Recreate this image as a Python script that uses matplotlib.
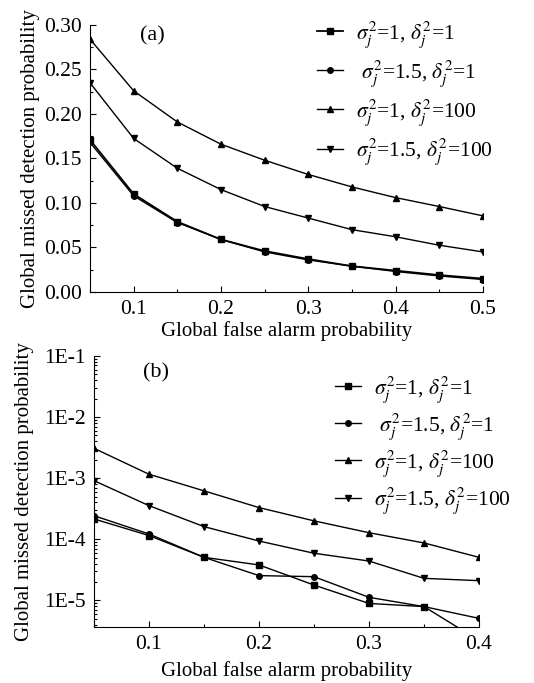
import numpy as np
import matplotlib
matplotlib.use("Agg")
import matplotlib.pyplot as plt
from matplotlib.ticker import MultipleLocator, LogLocator, NullFormatter, FuncFormatter

plt.rcParams['font.family'] = ['Liberation Serif', 'DejaVu Serif']
plt.rcParams['mathtext.fontset'] = 'stix'

# panel (a): linear scale
pf_a = [0.05, 0.10, 0.15, 0.20, 0.25, 0.30, 0.35, 0.40, 0.45, 0.50]
pm_a_s1_d1 = [0.171, 0.110, 0.079, 0.059, 0.046, 0.037, 0.029, 0.024, 0.019, 0.015]
pm_a_s15_d1 = [0.168, 0.108, 0.078, 0.059, 0.045, 0.036, 0.029, 0.023, 0.018, 0.014]
pm_a_s1_d100 = [0.284, 0.226, 0.191, 0.166, 0.148, 0.132, 0.118, 0.106, 0.096, 0.0855]
pm_a_s15_d100 = [0.235, 0.1725, 0.139, 0.115, 0.096, 0.083, 0.070, 0.062, 0.0525, 0.045]

# panel (b): log scale
pf_b = [0.05, 0.10, 0.15, 0.20, 0.25, 0.30, 0.35, 0.40]
pm_b_s1_d1 = [2.15e-4, 1.15e-4, 5.06e-5, 3.8e-5, 1.78e-5, 8.9e-6, 7.9e-6, 2.2e-6]
pm_b_s15_d1 = [2.43e-4, 1.22e-4, 5.06e-5, 2.54e-5, 2.44e-5, 1.12e-5, 7.9e-6, 5.07e-6]
pm_b_s1_d100 = [3.08e-3, 1.16e-3, 6.2e-4, 3.3e-4, 2.0e-4, 1.28e-4, 8.7e-5, 5.06e-5]
pm_b_s15_d100 = [9.1e-4, 3.55e-4, 1.61e-4, 9.35e-5, 5.9e-5, 4.4e-5, 2.29e-5, 2.1e-5]

labels = [r'$\sigma_j^2$=1, $\delta_j^2$=1',
          r' $\sigma_j^2$=1.5, $\delta_j^2$=1',
          r'$\sigma_j^2$=1, $\delta_j^2$=100',
          r'$\sigma_j^2$=1.5, $\delta_j^2$=100']
markers = ['s', 'o', '^', 'v']

fig = plt.figure(figsize=(5.34, 6.83), dpi=100)
ax1 = fig.add_axes([0.1685, 0.5725, 0.736, 0.391])
ax2 = fig.add_axes([0.176, 0.0824, 0.721, 0.3964])


def style_axes(ax):
    for side in ['top', 'right']:
        ax.spines[side].set_visible(False)
    ax.tick_params(which='both', direction='in', labelsize=15.5, width=0.8)
    ax.tick_params(which='major', length=4, pad=6)
    ax.tick_params(which='minor', length=2.5)


series_a = [pm_a_s1_d1, pm_a_s15_d1, pm_a_s1_d100, pm_a_s15_d100]
for vals, m, lab in zip(series_a, markers, labels):
    lw = 1.3 if m == 's' else 1.0
    ax1.plot(pf_a, vals, color='black', lw=lw, marker=m, ms=4, label=lab)
ax1.set_xlim(0.05, 0.5)
ax1.set_ylim(0, 0.30)
ax1.xaxis.set_major_locator(MultipleLocator(0.1))
ax1.xaxis.set_minor_locator(MultipleLocator(0.05))
ax1.yaxis.set_major_locator(MultipleLocator(0.05))
ax1.yaxis.set_minor_locator(MultipleLocator(0.025))
ax1.yaxis.set_major_formatter(FuncFormatter(lambda v, p: '%.2f' % v))
ax1.xaxis.set_major_formatter(FuncFormatter(lambda v, p: '' if v < 0.09 else '%.1f' % v))
style_axes(ax1)
ax1.set_xlabel('Global false alarm probability', fontsize=15, labelpad=1)
ax1.set_ylabel('Global missed detection probability', fontsize=15, labelpad=3)
ax1.text(0.127, 0.995, '(a)', transform=ax1.transAxes, fontsize=16, va='top')
ax1.legend(loc='upper right', bbox_to_anchor=(1.047, 1.055), frameon=False, fontsize=15.5,
           handlelength=1.2, handletextpad=0.6, labelspacing=0.4, borderaxespad=0)

series_b = [pm_b_s1_d1, pm_b_s15_d1, pm_b_s1_d100, pm_b_s15_d100]
for vals, m, lab in zip(series_b, markers, labels):
    ax2.plot(pf_b, vals, color='black', lw=1.0, marker=m, ms=4, label=lab)
ax2.set_yscale('log')
ax2.set_xlim(0.05, 0.4)
ax2.set_ylim(3.7e-6, 1e-1)
ax2.xaxis.set_major_locator(MultipleLocator(0.1))
ax2.xaxis.set_minor_locator(MultipleLocator(0.05))
ax2.xaxis.set_major_formatter(FuncFormatter(lambda v, p: '' if v < 0.09 else '%.1f' % v))
ax2.yaxis.set_major_locator(LogLocator(base=10, numticks=10))
ax2.yaxis.set_minor_locator(LogLocator(base=10, subs=np.arange(2, 10), numticks=10))
ax2.yaxis.set_minor_formatter(NullFormatter())
ax2.yaxis.set_major_formatter(FuncFormatter(lambda v, p: '1E%d' % round(np.log10(v))))
style_axes(ax2)
ax2.set_xlabel('Global false alarm probability', fontsize=15, labelpad=5)
ax2.set_ylabel('Global missed detection probability', fontsize=15, labelpad=7)
ax2.text(0.127, 0.975, '(b)', transform=ax2.transAxes, fontsize=16, va='top')
ax2.legend(loc='upper right', bbox_to_anchor=(1.104, 0.965), frameon=False, fontsize=15.5,
           handlelength=1.2, handletextpad=0.6, labelspacing=0.3, borderaxespad=0)

fig.savefig('out.png', dpi=100)
